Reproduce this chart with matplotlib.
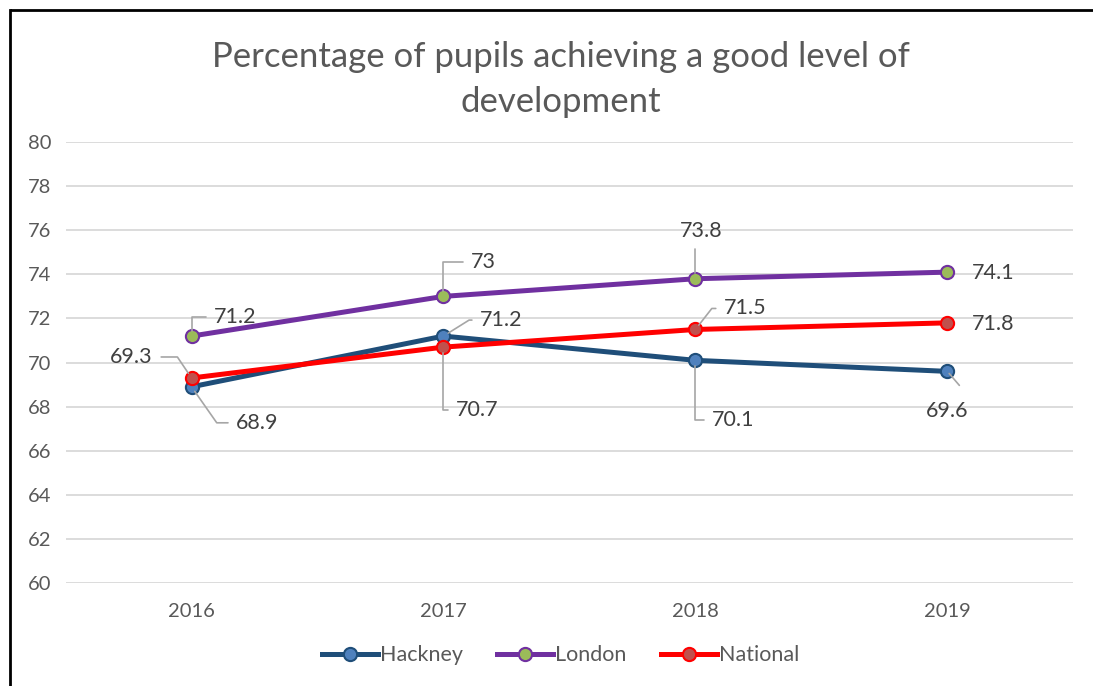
import matplotlib.pyplot as plt
from matplotlib.lines import Line2D

plt.rcParams['font.family'] = ['Lato', 'DejaVu Sans']

years = ['2016', '2017', '2018', '2019']
hackney = [68.9, 71.2, 70.1, 69.6]
london = [71.2, 73.0, 73.8, 74.1]
national = [69.3, 70.7, 71.5, 71.8]

GREY = '#595959'

fig = plt.figure(figsize=(10.93, 6.86), dpi=100)
ax = fig.add_axes([0.060, 0.150, 0.922, 0.643])

x = range(len(years))
series = [
    ('Hackney', hackney, '#1f4e79', '#4f81bd'),
    ('London', london, '#7030a0', '#9bbb59'),
    ('National', national, '#ff0000', '#c0504d'),
]
for name, vals, lc, fc in series:
    ax.plot(x, vals, color=lc, lw=3.6, marker='o', ms=9.5,
            mfc=fc, mec=lc, mew=1.5, label=name, zorder=3)

# data labels: (dx, dy) offset in pixels, leader connection style
lab = {
    'Hackney': [(66, -36, 'angle,angleA=0,angleB=-55,rad=0'),
                (58, 16, 'angle,angleA=0,angleB=32,rad=0'),
                (38, -60, 'angle,angleA=0,angleB=90,rad=0'),
                (0, -40, None)],
    'London': [(44, 19, 'angle,angleA=0,angleB=90,rad=0'),
               (40, 34, 'angle,angleA=0,angleB=90,rad=0'),
               (6, 48, 'angle,angleA=0,angleB=90,rad=0'),
               (46, -1, None)],
    'National': [(-60, 21, 'angle,angleA=0,angleB=-56,rad=0'),
                 (34, -63, 'angle,angleA=0,angleB=90,rad=0'),
                 (50, 21, 'angle,angleA=0,angleB=52,rad=0'),
                 (46, -1, None)],
}
for name, vals, lc, fc in series:
    for i, v in enumerate(vals):
        dx, dy, cs = lab[name][i]
        txt = f'{v:g}'
        if cs is not None:
            ax.annotate(txt, (i, v), xytext=(dx, dy), textcoords='offset pixels',
                        ha='center', va='center', fontsize=15.5, color='#404040',
                        arrowprops=dict(arrowstyle='-', color='#a6a6a6', lw=1.2,
                                        connectionstyle=cs, shrinkA=4, shrinkB=4),
                        zorder=4)
        else:
            ax.annotate(txt, (i, v), xytext=(dx, dy), textcoords='offset pixels',
                        ha='center', va='center', fontsize=15.5, color='#404040', zorder=4)
# small leader for 2019 Hackney
ax.annotate('', (3, hackney[3]), xytext=(12, -14), textcoords='offset pixels',
            arrowprops=dict(arrowstyle='-', color='#a6a6a6', lw=1.2, shrinkA=0, shrinkB=2))

ax.set_xlim(-0.5, 3.5)
ax.set_ylim(60, 80)
ax.set_yticks(range(60, 81, 2))
ax.set_xticks(list(x))
ax.set_xticklabels(years)
ax.grid(axis='y', color='#d9d9d9', lw=1.3)
ax.set_axisbelow(True)
for s in ax.spines.values():
    s.set_visible(False)
ax.tick_params(length=0, labelsize=14.5, colors=GREY, pad=10)
ax.tick_params(axis='x', pad=14)

fig.text(0.513, 0.884, 'Percentage of pupils achieving a good level of\ndevelopment',
         ha='center', va='center', fontsize=25, color=GREY, linespacing=1.5)

handles = [Line2D([], [], color=lc, lw=3.6, marker='o', ms=9.5, mfc=fc, mec=lc, mew=1.5)
           for _, _, lc, fc in series]
fig.legend(handles, [s[0] for s in series], loc='center', bbox_to_anchor=(0.513, 0.045),
           ncol=3, frameon=False, fontsize=15.5, labelcolor=GREY, handlelength=2.6,
           handletextpad=0.1, columnspacing=1.6)

# outer chart border (top and left visible)
fig.add_artist(Line2D([0.0092, 1.0], [0.985, 0.985], color='black', lw=2,
                      solid_capstyle='butt', transform=fig.transFigure))
fig.add_artist(Line2D([0.0092, 0.0092], [0.0, 0.985], color='black', lw=2,
                      solid_capstyle='projecting', transform=fig.transFigure))

fig.savefig('out.png', dpi=100)
